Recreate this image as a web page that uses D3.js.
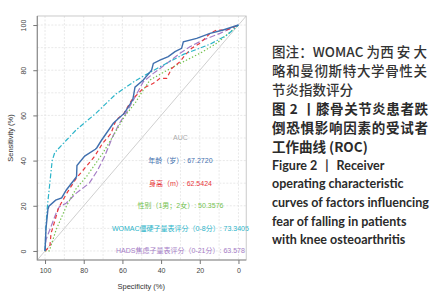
<!DOCTYPE html>
<html lang="zh">
<head>
    <meta charset="utf-8">
    <title>ROC</title>
    <script src="https://d3js.org/d3.v7.min.js"></script>
    <style>
        body { margin: 0; background: #fff; }
        svg { display: block; }
    </style>
</head>
<body>
<script>
    // ROC points: [specificity %, sensitivity %]
    const ageRoc = [[100,0],[99.5,10],[98.5,18.5],[98,19.8],[94.5,22.5],[91.4,23.5],[89,27],[84,32.5],
        [83.7,33],[83.5,37.8],[79.5,42],[74,45],[73.3,45.6],[70.8,49],[64.7,56.5],[59,61],[54.7,66.8],
        [54.2,69],[53.5,72.5],[49.2,75.7],[44.9,80],[44,83],[40.6,84.5],[36.3,86],[32.8,88.2],[29.4,89.7],
        [28.5,92.6],[21.6,94.1],[14.7,96.3],[7.9,97.8],[0,100]];
    const heightRoc = [[100,0],[97.5,2],[96.9,7.8],[94.8,13.7],[93.1,18.9],[88.8,25.5],[83.6,32.5],[78.8,37.3],
        [74.5,41.7],[70.2,47.7],[65.9,52],[63.3,58],[59.5,60.5],[55.2,66.8],[49.2,72],[44,74.2],[40.6,76.4],
        [37.1,76.4],[34.5,80.8],[30.2,83.8],[27.6,86.7],[24.2,89.7],[19.9,91.9],[14.7,96.3],[11.3,97.8],
        [6.1,97.8],[0,100]];
    const sexRoc = [[100,0],[97.8,0],[94.3,9.3],[89.1,19.6],[84,27.5],[78.5,33],[70.2,43.2],[65,50.6],
        [59,59.4],[53,66],[50.9,69],[45.7,75.7],[39.7,78.6],[33.7,81.5],[26.8,84.5],[19.9,87.5],
        [11.3,91.9],[0,100]];
    const womacRoc = [[100,0],[99.6,10],[98.8,19.6],[97.4,31],[96.3,40],[95,43.5],[89,49],[84,53.5],
        [73.6,61],[63.3,69.5],[53,75.5],[40.6,81.5],[28.5,87],[14.7,91.5],[6,95.5],[0,100]];
    const hadsRoc = [[100,0],[99.5,5],[96.9,10.8],[94.3,16.7],[92.6,19.6],[89.1,21.1],[84,25.5],[77.1,30],
        [72.8,35.8],[69.3,41.7],[65,50.6],[61.6,56.5],[58.1,61],[53.8,67.6],[49.2,74.9],[44,78.6],
        [37.1,83],[30.2,87.5],[25.1,90.4],[18.2,93.4],[9.6,96.3],[0,100]];

    const seriesNames = ["年龄（岁）", "身高（m）", "性别（1男；2女）", "WOMAC僵硬子量表评分（0-8分）", "HADS焦虑子量表评分（0-21分）"];
    const aucValues = ["67.2720", "62.5424", "50.3576", "73.3405", "63.578"];
    const seriesColors = ["#3f6fae", "#e8383d", "#74c24f", "#2bb4c9", "#a57cc6"];
    const seriesDash = [null, "4,3", "1.4,2", "5,2,1.4,2", "6,2.5"];

    const xTicks = [100, 80, 60, 40, 20, 0];
    const yTicks = [0, 20, 40, 60, 80, 100];
    const gridVals = d3.range(0, 101, 10);

    const captionCn = ["图注：WOMAC 为西 安 大", "略和曼彻斯特大学骨性关", "节炎指数评分"];
    const captionCnBold = ["图 2 丨膝骨关节炎患者跌", "倒恐惧影响因素的受试者", "工作曲线 (ROC)"];
    const captionEn = [["Figure 2", "|", "Receiver"], ["operating characteristic"], ["curves of factors influencing"],
        ["fear of falling in patients"], ["with knee osteoarthritis"]];

    const W = 444, H = 300;
    const svg = d3.select("body").append("svg").attr("width", W).attr("height", H);

    // scales (4% expansion like ggplot)
    const x = d3.scaleLinear().domain([104, -4]).range([37.3, 246.2]);
    const y = d3.scaleLinear().domain([-4, 104]).range([260, 16]);
    const x0 = x.range()[0], x1 = x.range()[1], y0 = y.range()[1], y1 = y.range()[0];

    svg.append("clipPath").attr("id", "panel")
        .append("rect").attr("x", x0).attr("y", y0).attr("width", x1 - x0).attr("height", y1 - y0);

    // grid
    const grid = svg.append("g").attr("stroke", "#e3e3e3").attr("stroke-width", 0.8).attr("stroke-dasharray", "2,1.5");
    grid.selectAll(".gv").data(gridVals).enter().append("line")
        .attr("x1", d => x(d)).attr("x2", d => x(d)).attr("y1", y0).attr("y2", y1);
    grid.selectAll(".gh").data(gridVals).enter().append("line")
        .attr("y1", d => y(d)).attr("y2", d => y(d)).attr("x1", x0).attr("x2", x1);

    // diagonal reference line
    svg.append("line").attr("clip-path", "url(#panel)")
        .attr("x1", x(104)).attr("y1", y(-4)).attr("x2", x(-4)).attr("y2", y(104))
        .attr("stroke", "#cfcfcf").attr("stroke-width", 1);

    // ROC curves
    const line = d3.line().x(d => x(d[0])).y(d => y(d[1]));
    const rocs = [hadsRoc, sexRoc, heightRoc, womacRoc, ageRoc];
    const order = [4, 2, 1, 3, 0];
    rocs.forEach((r, k) => {
        const i = order[k];
        svg.append("path").datum(r)
            .attr("fill", "none")
            .attr("stroke", seriesColors[i])
            .attr("stroke-width", i === 0 ? 1.4 : 1.2)
            .attr("stroke-dasharray", seriesDash[i])
            .attr("d", line);
    });

    // AUC labels
    svg.append("text").attr("x", x(30)).attr("y", y(50)).attr("dy", "0.35em")
        .attr("text-anchor", "middle").attr("font-family", "Liberation Sans, Arial, sans-serif")
        .attr("font-size", 7).attr("fill", "#aaaaaa").text("AUC");
    svg.selectAll(".auc").data(seriesNames).enter().append("text")
        .attr("x", x(30)).attr("y", (d, i) => y(40 - i * 10)).attr("dy", "0.35em")
        .attr("text-anchor", "middle")
        .attr("font-family", "Liberation Sans, 'Noto Sans CJK SC', sans-serif")
        .attr("font-size", 7)
        .attr("fill", (d, i) => seriesColors[i])
        .text((d, i) => d + ": " + aucValues[i]);

    // panel border
    svg.append("rect").attr("x", x0).attr("y", y0).attr("width", x1 - x0).attr("height", y1 - y0)
        .attr("fill", "none").attr("stroke", "#bdbdbd").attr("stroke-width", 0.8);
    svg.append("path").attr("d", `M${x0},${y0}V${y1}H${x1}`)
        .attr("fill", "none").attr("stroke", "#8c8c8c").attr("stroke-width", 1.2);

    // axes
    const xAxis = svg.append("g").attr("transform", `translate(0,${y1})`)
        .call(d3.axisBottom(x).tickValues(xTicks).tickSize(4).tickPadding(4));
    const yAxis = svg.append("g").attr("transform", `translate(${x0},0)`)
        .call(d3.axisLeft(y).tickValues(yTicks).tickSize(4));
    [xAxis, yAxis].forEach(a => {
        a.select(".domain").remove();
        a.selectAll("line").attr("stroke", "#777");
        a.selectAll("text").attr("fill", "#444").attr("font-size", 7)
            .attr("font-family", "Liberation Sans, Arial, sans-serif");
    });
    yAxis.selectAll("text")
        .attr("transform", "rotate(-90)")
        .attr("x", 0).attr("y", -13.3).attr("dy", "0.35em")
        .style("text-anchor", "middle");

    svg.append("text").attr("x", (x0 + x1) / 2 - 0.5).attr("y", 286).attr("dy", "0.35em")
        .attr("text-anchor", "middle").attr("font-family", "Liberation Sans, Arial, sans-serif")
        .attr("font-size", 7.5).attr("fill", "#333").text("Specificity (%)");
    svg.append("text").attr("transform", `translate(10,${(y0 + y1) / 2}) rotate(-90)`).attr("dy", "0.35em")
        .attr("text-anchor", "middle").attr("font-family", "Liberation Sans, Arial, sans-serif")
        .attr("font-size", 7.5).attr("fill", "#333").text("Sensitivity (%)");

    // caption on the right
    const cap = svg.append("g").attr("fill", "#333");
    captionCn.forEach((t, i) => {
        cap.append("text").attr("x", 272).attr("y", 51.7 + i * 19).attr("dy", "0.36em")
            .attr("font-family", "'Noto Sans CJK SC', sans-serif").attr("font-size", 13.5)
            .attr("font-weight", 500)
            .attr("textLength", i < 2 ? 155 : null).attr("lengthAdjust", "spacing")
            .text(t);
    });
    captionCnBold.forEach((t, i) => {
        cap.append("text").attr("x", 272).attr("y", 109 + i * 19).attr("dy", "0.36em")
            .attr("font-family", "'Noto Sans CJK SC', sans-serif").attr("font-size", 13.5)
            .attr("font-weight", "bold").attr("fill", "#2b2b2b")
            .attr("textLength", i < 2 ? 156 : null).attr("lengthAdjust", "spacing")
            .text(t);
    });
    captionEn.forEach((parts, i) => {
        const t = cap.append("text").attr("x", 272).attr("y", 165.5 + i * 18.6).attr("dy", "0.35em")
            .attr("font-family", "Lato, 'Open Sans', sans-serif").attr("font-size", 12.5)
            .attr("font-weight", "bold").attr("fill", "#2b2b2b");
        parts.forEach((p, j) => t.append("tspan").attr("dx", j ? 8 : 0).text(p));
    });
</script>
</body>
</html>
